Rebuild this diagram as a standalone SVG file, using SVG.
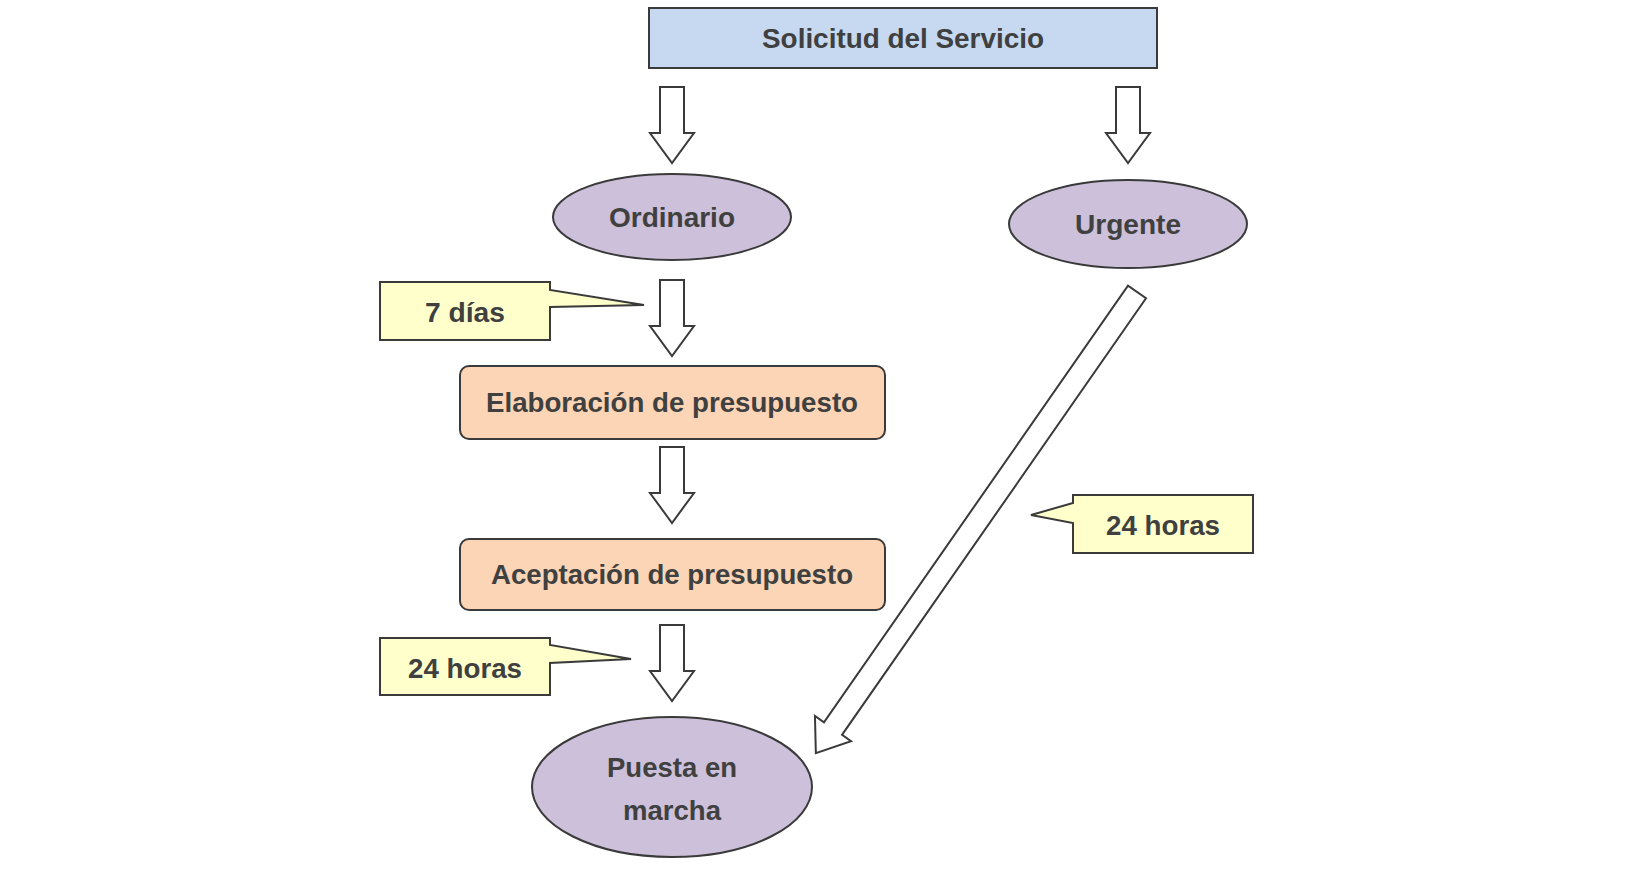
<svg xmlns="http://www.w3.org/2000/svg" width="1631" height="884" viewBox="0 0 1631 884">
<style>
.s{stroke:#3a3a3a;stroke-width:2}
.t{font-family:"Liberation Sans",Arial,sans-serif;font-weight:bold;font-size:28px;fill:#404040;text-anchor:middle;dominant-baseline:central}
.a{fill:#fff;stroke:#3a3a3a;stroke-width:2}
</style>
<defs>
<path id="arr" d="M0,-12 H46 V-22 L76,0 L46,22 V12 H0 Z"/>
</defs>
<rect width="1631" height="884" fill="#fff"/>
<g id="connectors">
<use href="#arr" class="a" transform="translate(672,87) rotate(90)"/>
<use href="#arr" class="a" transform="translate(1128,87) rotate(90)"/>
<use href="#arr" class="a" transform="translate(672,280) rotate(90)"/>
<use href="#arr" class="a" transform="translate(672,447) rotate(90)"/>
<use href="#arr" class="a" transform="translate(672,625) rotate(90)"/>
<path class="a" transform="translate(1137,292) rotate(124.85)" d="M0,-11 H532 V-22 L562,0 L532,22 V11 H0 Z"/>
</g>
<g id="n1"><rect x="649" y="8" width="508" height="60" fill="#C6D9F0" class="s"/><text class="t" x="903" y="38" textLength="282" lengthAdjust="spacingAndGlyphs">Solicitud del Servicio</text></g>
<g id="n2"><ellipse cx="672" cy="217" rx="119" ry="43" fill="#CCC0DA" class="s"/><text class="t" x="672" y="217" textLength="126" lengthAdjust="spacingAndGlyphs">Ordinario</text></g>
<g id="n3"><ellipse cx="1128" cy="224" rx="119" ry="44" fill="#CCC0DA" class="s"/><text class="t" x="1128" y="224" textLength="106" lengthAdjust="spacingAndGlyphs">Urgente</text></g>
<g id="n4"><rect x="460" y="366" width="425" height="73" rx="9" fill="#FBD5B5" class="s"/><text class="t" x="672" y="402" textLength="372" lengthAdjust="spacingAndGlyphs">Elaboración de presupuesto</text></g>
<g id="n5"><rect x="460" y="539" width="425" height="71" rx="9" fill="#FBD5B5" class="s"/><text class="t" x="672" y="574" textLength="362" lengthAdjust="spacingAndGlyphs">Aceptación de presupuesto</text></g>
<g id="n6"><ellipse cx="672" cy="787" rx="140" ry="70" fill="#CCC0DA" class="s"/><text class="t" x="672" y="767" textLength="130" lengthAdjust="spacingAndGlyphs">Puesta en</text><text class="t" x="672" y="810" textLength="98" lengthAdjust="spacingAndGlyphs">marcha</text></g>
<g id="c1"><path d="M380,282 H550 V290 L644,305 L550,307 V340 H380 Z" fill="#FFFFCC" class="s"/><text class="t" x="465" y="312" textLength="80" lengthAdjust="spacingAndGlyphs">7 días</text></g>
<g id="c2"><path d="M380,638 H550 V645 L631,659 L550,663 V695 H380 Z" fill="#FFFFCC" class="s"/><text class="t" x="465" y="668" textLength="114" lengthAdjust="spacingAndGlyphs">24 horas</text></g>
<g id="c3"><path d="M1073,495 H1253 V553 H1073 V523 L1031,515 L1073,503 Z" fill="#FFFFCC" class="s"/><text class="t" x="1163" y="525" textLength="114" lengthAdjust="spacingAndGlyphs">24 horas</text></g>
</svg>
